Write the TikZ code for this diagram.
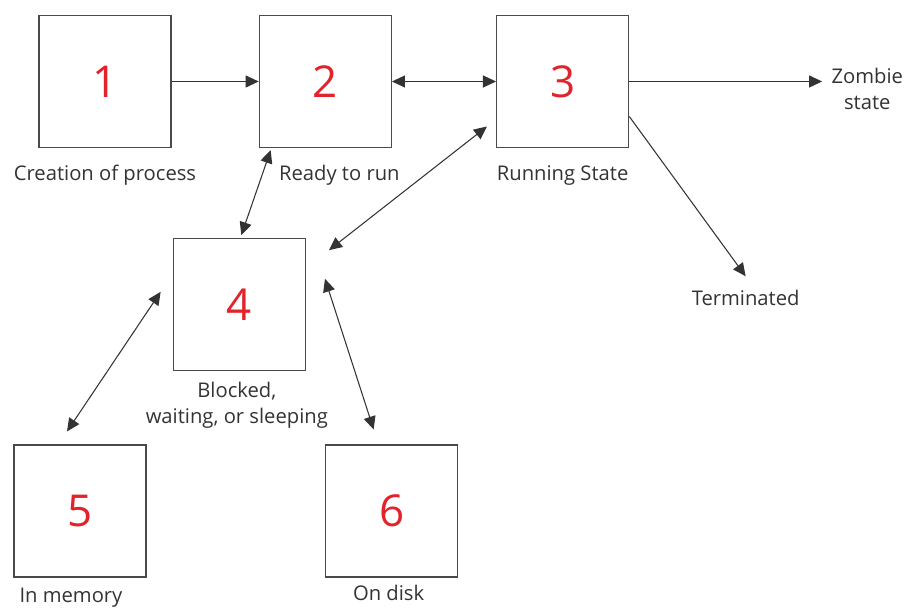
\documentclass[tikz,border=0pt]{standalone}
\usepackage{fontspec}
\setmainfont{Open Sans}
\usetikzlibrary{arrows.meta,positioning}
\definecolor{boxgray}{HTML}{4A4A4A}
\definecolor{linegray}{HTML}{333333}
\definecolor{numred}{HTML}{E3232B}

\begin{document}
\begin{tikzpicture}[->,>={Triangle[length=0.26cm,width=0.24cm]},
      node distance=1.74cm,line width=0.6pt,draw=linegray,
      state box/.style={rectangle,draw=boxgray,line width=0.75pt,fill=white,
      minimum size=2.64cm,inner sep=0pt,text=numred,
      font=\fontsize{25}{25}\selectfont},
      state label/.style={inner sep=0pt,align=center,text=linegray,
      font=\fontsize{11.5}{14.8}\selectfont}]

      \useasboundingbox (0,0) rectangle (18.08,12.16);

      %% the states
      \node[state box] (one) at (2.10,10.53) {1};
      \node[state box] (two) [right=1.74cm of one] {2};
      \node[state box] (three) [right=2.08cm of two] {3};
      \node[state box] (four) [below right=1.8cm and 0.02cm of one] {4};
      \node[state box] (five) [below left=1.46cm and 0.52cm of four] {5};
      \node[state box] (six) [below right=1.46cm and 0.38cm of four] {6};

      %% the texts under and beside them (base = last line)
      \node[state label] (one label) [below=0.64cm of one, anchor=base] {Creation of process};
      \node[state label] (two label) [below=0.64cm of two, anchor=base, xshift=0.28cm] {Ready to run};
      \node[state label] (three label) [below=0.64cm of three, anchor=base] {Running State};
      \node[state label] (four label) [below=1.04cm of four, anchor=base, xshift=-0.05cm] {Blocked,\\waiting, or sleeping};
      \node[state label] (five label) [below=0.5cm of five, anchor=base, xshift=-0.18cm] {In memory};
      \node[state label] (six label) [below=0.46cm of six, anchor=base, xshift=-0.06cm] {On disk};
      \node[state label] (zombie) [right=4.76cm of three, anchor=base, yshift=-0.56cm] {Zombie\\state};
      \node[state label] (terminated) [below=3.14cm of three, anchor=base, xshift=3.66cm] {Terminated};

      %% the transitions
      \path[every edge/.style={draw=linegray,line width=0.6pt}]
            (one) edge (two)
            (two) edge[<->] (three)
            (three) edge[shorten >=0.18cm] (three -| zombie.west)
            ([yshift=-0.7cm]three.east) edge ([yshift=0.26cm]terminated.north)
            ([xshift=0.24cm,yshift=-0.04cm]two.south west) edge[<->] ([xshift=0.04cm,yshift=0.06cm]four.north)
            ([xshift=-0.18cm,yshift=-0.9cm]three.west) edge[<->] ([xshift=0.46cm,yshift=-0.24cm]four.north east)
            ([xshift=-0.24cm,yshift=0.26cm]four.west) edge[<->] ([xshift=-0.26cm,yshift=0.26cm]five.north)
            ([xshift=0.38cm,yshift=0.52cm]four.east) edge[<->] ([xshift=-0.36cm,yshift=0.3cm]six.north);
\end{tikzpicture}
\end{document}
